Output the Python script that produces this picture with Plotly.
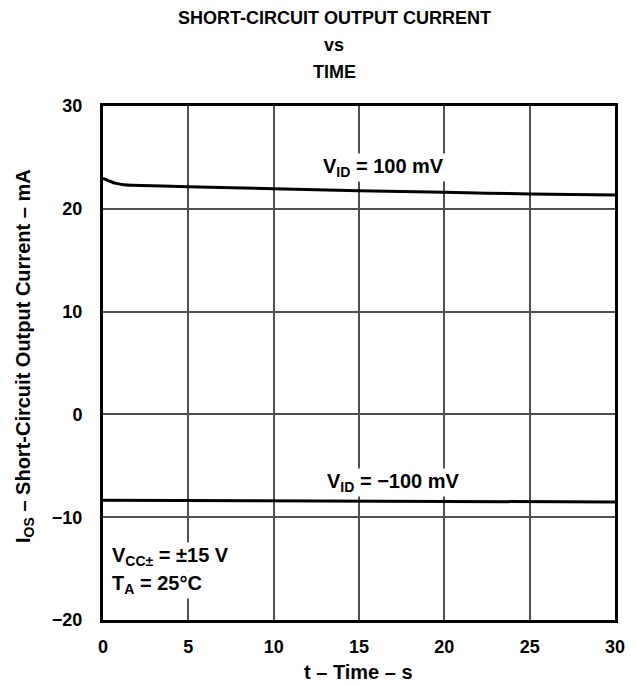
import plotly.graph_objects as go

# Data
time_pos = [0, 0.3, 0.7, 1.2, 1.7, 5, 10, 15, 20, 25, 30]
ios_pos = [22.95, 22.75, 22.5, 22.35, 22.3, 22.15, 21.95, 21.75, 21.6, 21.45, 21.35]
time_neg = [0, 5, 10, 15, 20, 25, 30]
ios_neg = [-8.35, -8.38, -8.41, -8.44, -8.47, -8.5, -8.52]

x_ticks = [0, 5, 10, 15, 20, 25, 30]
y_ticks = [-20, -10, 0, 10, 20, 30]
y_tick_text = ["\u221220", "\u221210", "0", "10", "20", "30"]
title_lines = ["SHORT-CIRCUIT OUTPUT CURRENT", "vs", "TIME"]

FONT = "Liberation Sans, Arial, Helvetica, sans-serif"
W, H = 637, 685
L, R, T, B = 102.5, 19.5, 106, 65
PW, PH = W - L - R, H - T - B


def px_to_paper_x(px):
    return (px - L) / PW


def px_to_paper_y(py):
    return (H - B - py) / PH


fig = go.Figure()
fig.add_trace(go.Scatter(x=time_pos, y=ios_pos, mode="lines",
                         line=dict(color="black", width=3, shape="spline", smoothing=0.6),
                         showlegend=False, hoverinfo="skip"))
fig.add_trace(go.Scatter(x=time_neg, y=ios_neg, mode="lines",
                         line=dict(color="black", width=3),
                         showlegend=False, hoverinfo="skip"))

ann_font = dict(family=FONT, size=20, color="black")
fig.add_annotation(x=16.45, y=24.0, xref="x", yref="y",
                   text="<b>V<sub>ID</sub> = 100 mV</b>", showarrow=False,
                   font=ann_font, bgcolor="white", borderpad=1)
fig.add_annotation(x=17.0, y=-6.6, xref="x", yref="y",
                   text="<b>V<sub>ID</sub> = \u2212100 mV</b>", showarrow=False,
                   font=ann_font, bgcolor="white", borderpad=1)
fig.add_annotation(x=0.42, y=-13.8, xref="x", yref="y", xanchor="left",
                   text="<b>V<sub>CC\u00b1</sub> = \u00b115 V</b>", showarrow=False,
                   font=ann_font, bgcolor="white", borderpad=1)
fig.add_annotation(x=0.42, y=-16.5, xref="x", yref="y", xanchor="left",
                   text="<b>T<sub>A</sub> = 25\u00b0C</b>", showarrow=False,
                   font=ann_font, bgcolor="white", borderpad=1)

# Title lines
for i, line in enumerate(title_lines):
    fig.add_annotation(x=px_to_paper_x(335), y=px_to_paper_y(18 + 27 * i),
                       xref="paper", yref="paper", xanchor="center", yanchor="middle",
                       text=f"<b>{line}</b>", showarrow=False,
                       font=dict(family=FONT, size=18, color="black"))

# Y axis title
fig.add_annotation(x=px_to_paper_x(23), y=px_to_paper_y(356), xref="paper", yref="paper",
                   xanchor="center", yanchor="middle",
                   text="<b>I<sub>OS</sub> \u2013 Short-Circuit Output Current \u2013 mA</b>",
                   showarrow=False, textangle=-90, font=dict(family=FONT, size=20, color="black"))

# X axis title
fig.add_annotation(x=px_to_paper_x(359), y=px_to_paper_y(672), xref="paper", yref="paper",
                   xanchor="center", yanchor="middle",
                   text="<b>t \u2013 Time \u2013 s</b>", showarrow=False,
                   font=dict(family=FONT, size=20, color="black"))

fig.update_layout(
    width=W, height=H,
    margin=dict(l=L, r=R, t=T, b=B),
    paper_bgcolor="white", plot_bgcolor="white",
    font=dict(family=FONT, size=18, color="black"),
    xaxis=dict(range=[0, 30], tickvals=x_ticks, ticktext=[f"<b>{v}</b>" for v in x_ticks],
               showgrid=True, gridcolor="#505050", gridwidth=1.5,
               showline=True, linecolor="black", linewidth=3, mirror=True,
               ticks="", zeroline=False, ticklabelstandoff=8,
               tickfont=dict(size=18)),
    yaxis=dict(range=[-20, 30], tickvals=y_ticks, ticktext=[f"<b>{t}</b>" for t in y_tick_text],
               showgrid=True, gridcolor="#505050", gridwidth=1.5,
               showline=True, linecolor="black", linewidth=3, mirror=True,
               ticks="", zeroline=False, ticklabelstandoff=14,
               tickfont=dict(size=18)),
)

fig.write_html("out.html", config={"displayModeBar": False},
               post_script="document.body.style.margin='0px';")
